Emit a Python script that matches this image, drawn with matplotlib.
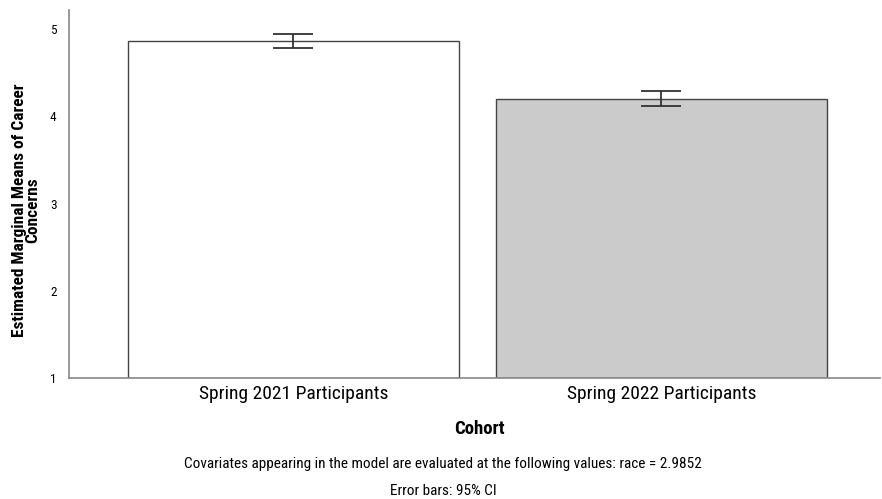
import numpy as np
import matplotlib.pyplot as plt

cohorts = ["Spring 2021 Participants", "Spring 2022 Participants"]
means = [4.86, 4.20]
ci_low = [4.78, 4.12]
ci_high = [4.95, 4.29]
footnote = "Covariates appearing in the model are evaluated at the following values: race = 2.9852"

plt.rcParams['font.family'] = ['Roboto Condensed', 'DejaVu Sans']

fig = plt.figure(figsize=(8.82, 4.99), dpi=100)
ax = fig.add_axes([69 / 882, 121 / 499, 811 / 882, 368 / 499])

x = np.arange(len(cohorts))
base = 1
heights = [m - base for m in means]
ax.bar(x, heights, bottom=base, width=0.9, color=["white", "#cbcbcb"],
       edgecolor="#444444", linewidth=1.0, zorder=2)
yerr = [np.array(means) - np.array(ci_low), np.array(ci_high) - np.array(means)]
ax.errorbar(x, means, yerr=yerr, fmt="none", ecolor="#333333", elinewidth=1.3,
            capsize=14.4, capthick=1.3, zorder=3)

ax.set_xlim(-0.61, 1.594)
ax.set_ylim(1, 5.22)
ax.set_yticks([1, 2, 3, 4, 5])
ax.set_xticks(x)
ax.set_xticklabels(cohorts, fontsize=14)
ax.tick_params(axis="y", length=0, labelsize=9.5, pad=9)
ax.tick_params(axis="x", length=0, pad=5)
for s in ["top", "right"]:
    ax.spines[s].set_visible(False)
for s in ["left", "bottom"]:
    ax.spines[s].set_color("#888888")
    ax.spines[s].set_linewidth(1.2)

ax.set_ylabel("Estimated Marginal Means of Career\nConcerns", fontsize=12.5,
              fontweight="bold", linespacing=0.85)
ax.yaxis.set_label_coords(-0.036, 0.455)

fig.text(479 / 882, 1 - 429 / 499, "Cohort", ha="center", va="center",
         fontsize=13.5, fontweight="bold")
fig.text(443 / 882, 1 - 464 / 499, footnote, ha="center", va="center", fontsize=11)
fig.text(443 / 882, 1 - 491 / 499, "Error bars: 95% CI",
         ha="center", va="center", fontsize=11)

fig.savefig("out.png", dpi=100)
